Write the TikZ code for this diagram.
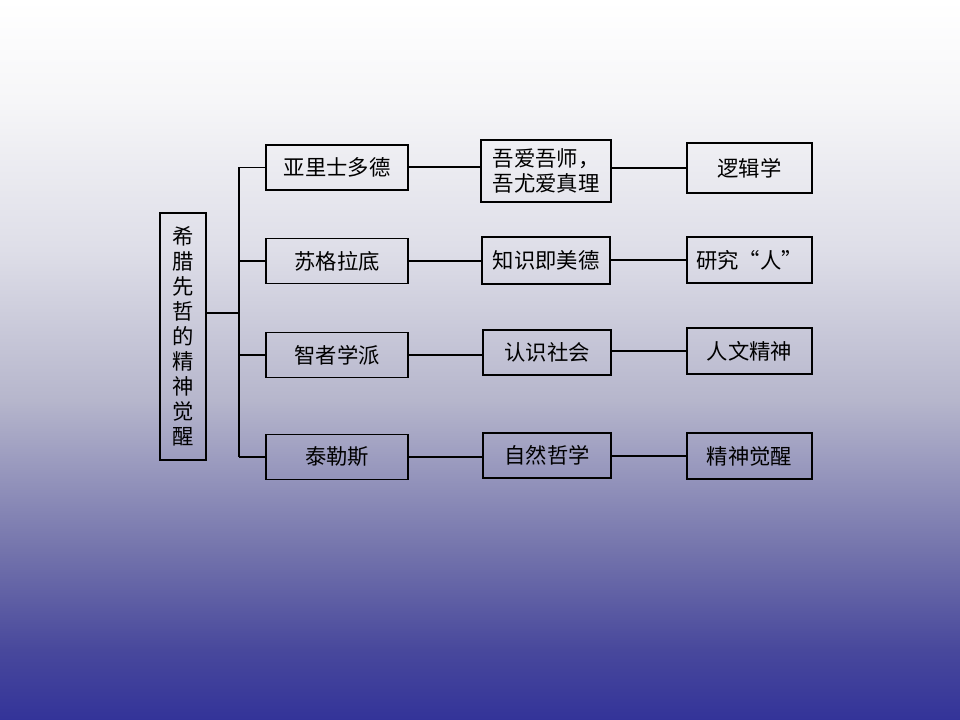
\documentclass[tikz,border=0pt]{standalone}
\usepackage{fontspec}
\newfontfamily\cjk{Noto Sans CJK SC}
\usetikzlibrary{calc}
\definecolor{bgZ}{HTML}{F6F6F8}
\definecolor{bgA}{HTML}{DEDEE8}
\definecolor{bgB}{HTML}{B6B6CC}
\definecolor{bgC}{HTML}{7474AC}
\definecolor{bgD}{HTML}{48489C}
\definecolor{bgE}{HTML}{333399}
\pgfdeclareverticalshading{bgshade}{100bp}{%
  color(0bp)=(bgE); color(25bp)=(bgE); color(29.86bp)=(bgD); color(36.81bp)=(bgC);
  color(47.22bp)=(bgB); color(57.64bp)=(bgA); color(68.06bp)=(bgZ); color(75bp)=(white); color(100bp)=(white)}
\begin{document}
\begin{tikzpicture}[x=0.75pt,y=-0.75pt,
  box/.style={draw=black,line width=1.4pt,inner sep=0pt,align=center,font=\cjk\fontsize{16}{18.75}\selectfont,text=black},
  midbox/.style={box,line width=0.9pt},
  thickln/.style={line width=1.5pt},
  thinln/.style={line width=0.8pt}]
\shade[shading=bgshade] (0pt,0pt) rectangle (720pt,-540pt);
\useasboundingbox (0,0) rectangle (960,720);
% root
\node[box,line width=1.1pt,minimum width=46*0.75pt,minimum height=247*0.75pt] (root) at (183,336.5)
  {希\\腊\\先\\哲\\的\\精\\神\\觉\\醒};
% column 1
\node[box,minimum width=142*0.75pt,minimum height=45*0.75pt] (a1) at (337,167.5) {亚里士多德};
\node[box,minimum width=142*0.75pt,minimum height=45*0.75pt] (a2) at (337,261) {苏格拉底};
\node[box,minimum width=142*0.75pt,minimum height=45*0.75pt] (a3) at (337,355) {智者学派};
\node[box,minimum width=142*0.75pt,minimum height=45*0.75pt] (a4) at (337,457) {泰勒斯};
% column 2
\node[midbox,minimum width=130*0.75pt,minimum height=62*0.75pt] (b1) at (546,171) {吾爱吾师，\\吾尤爱真理};
\node[midbox,minimum width=128*0.75pt,minimum height=47*0.75pt] (b2) at (546,260.5) {知识即美德};
\node[midbox,minimum width=128*0.75pt,minimum height=45*0.75pt] (b3) at (547,352.5) {认识社会};
\node[midbox,minimum width=128*0.75pt,minimum height=45*0.75pt] (b4) at (547,455.5) {自然哲学};
% column 3
\node[box,minimum width=125*0.75pt,minimum height=50*0.75pt] (c1) at (749.5,168) {逻辑学};
\node[box,minimum width=125*0.75pt,minimum height=46*0.75pt] (c2) at (749.5,260) {研究“人”};
\node[box,minimum width=125*0.75pt,minimum height=46*0.75pt] (c3) at (749.5,351) {人文精神};
\node[box,minimum width=125*0.75pt,minimum height=46*0.75pt] (c4) at (749.5,456) {精神觉醒};
% trunk
\coordinate (j) at (239,313);
\draw[thinln] (root.east |- j) -- (j);
\draw[thinln] (j |- a1.west) -- (j |- a4.west);
\foreach \i in {1,2,3,4} {\draw[thinln] (j |- a\i.west) -- (a\i.west);}
% connectors
\draw[thickln] (a1.east) -- (b1.west |- a1.east);
\draw[thickln] (b1.east |- c1.west) -- (c1.west);
\draw[thinln] (a2.east) -- (b2.west |- a2.east);
\draw[thickln] (b2.east |- c2.west) -- (c2.west);
\draw[thinln] (a3.east) -- (b3.west |- a3.east);
\draw[thinln] (b3.east |- c3.west) -- (c3.west);
\draw[thinln] (a4.east) -- (b4.west |- a4.east);
\draw[thickln] (b4.east |- c4.west) -- (c4.west);
\end{tikzpicture}
\end{document}
